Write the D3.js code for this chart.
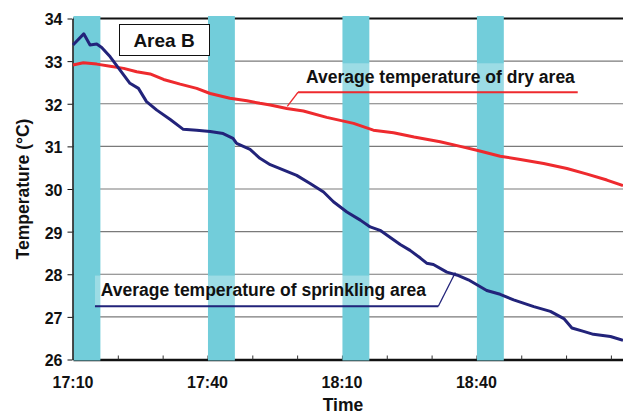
<!DOCTYPE html>
<html>
<head>
<meta charset="utf-8">
<script src="https://cdn.jsdelivr.net/npm/d3@7"></script>
<style>
  body { margin: 0; background: #fff; }
  svg { display: block; font-family: 'Liberation Sans', Arial, sans-serif; font-weight: bold; }
</style>
</head>
<body>
<svg id="chart" width="623" height="414"></svg>
<script>
// minutes after 17:10
const dryMinutes = [0, 2.3, 5.3, 8.3, 11.3, 14.2, 17.2, 20.2, 23.9, 27.6, 30.6, 35, 38.8, 41.7, 44, 47.7,
  51.4, 56.6, 62.6, 67, 71.5, 76.1, 81.9, 86.4, 90.1, 95.3, 99.8, 105, 110.2, 114.7, 119.1, 122.7];
const dryTemps = [32.91, 32.96, 32.93, 32.88, 32.83, 32.75, 32.70, 32.57, 32.46, 32.36, 32.24, 32.13, 32.07, 32.01, 31.97, 31.89,
  31.83, 31.68, 31.54, 31.38, 31.32, 31.22, 31.11, 31.00, 30.91, 30.77, 30.69, 30.60, 30.48, 30.35, 30.21, 30.08];

const sprinkMinutes = [0, 2.4, 3.8, 5.3, 6.4, 8.3, 10.5, 12.7, 14.6, 16.4, 18.7, 21.7, 24.6, 27.6, 30.6, 33.5,
  35.7, 36.5, 39.5, 41.7, 44, 46.2, 49.9, 52.9, 55.9, 58.1, 61.1, 64.1, 66.3, 68.5, 73, 75.2, 77.5, 78.9,
  80.4, 83.4, 86, 88.2, 92.3, 95.3, 98.3, 102.8, 106.5, 109.5, 111.3, 113.9, 116.1, 119.9, 122.7];
const sprinkTemps = [33.38, 33.64, 33.38, 33.40, 33.32, 33.10, 32.79, 32.48, 32.36, 32.05, 31.85, 31.63, 31.40, 31.38, 31.35, 31.30,
  31.19, 31.07, 30.93, 30.72, 30.57, 30.48, 30.32, 30.13, 29.93, 29.70, 29.46, 29.27, 29.11, 29.03, 28.70, 28.56, 28.38, 28.26,
  28.23, 28.05, 27.97, 27.87, 27.62, 27.53, 27.40, 27.24, 27.13, 26.96, 26.74, 26.66, 26.59, 26.54, 26.45];

// sprinkling periods (start, end) in minutes
const sprinkStart = [0, 30, 60, 90];
const sprinkEnd = [6, 36, 66, 96];

const xTickLabels = ['17:10', '17:40', '18:10', '18:40'];
const xTickMinutes = [0, 30, 60, 90];
const yTicks = [26, 27, 28, 29, 30, 31, 32, 33, 34];

const svg = d3.select('#chart');
const x = d3.scaleLinear().domain([0, 122.7]).range([73, 623]);
const y = d3.scaleLinear().domain([26, 34]).range([359.5, 18.5]);

const red = '#ee2a2e';
const navy = '#22237a';
const band = '#72cdda';

// grid
svg.append('g')
  .selectAll('line')
  .data(yTicks.filter(d => d > 26 && d < 34))
  .join('line')
  .attr('x1', x(0)).attr('x2', 623)
  .attr('y1', d => y(d)).attr('y2', d => y(d))
  .attr('stroke', '#7a7a7a').attr('stroke-width', 1.2);

// top frame line
svg.append('line')
  .attr('x1', x(0)).attr('x2', 623)
  .attr('y1', y(34)).attr('y2', y(34))
  .attr('stroke', '#111').attr('stroke-width', 2);

// bottom axis with minor ticks pointing up
const xAxis = d3.axisBottom(x)
  .tickValues(d3.range(10, 121, 10))
  .tickSizeInner(-4).tickSizeOuter(0)
  .tickFormat('');
svg.append('g')
  .attr('transform', `translate(0,${y(26)})`)
  .call(xAxis)
  .call(g => g.select('.domain').attr('stroke', '#111').attr('stroke-width', 2.5))
  .call(g => g.selectAll('.tick line').attr('stroke', '#333'));

// sprinkling bands
svg.append('g')
  .selectAll('rect')
  .data(sprinkStart.map((s, i) => [s, sprinkEnd[i]]))
  .join('rect')
  .attr('x', d => x(d[0]) + 0.5)
  .attr('width', d => x(d[1]) - x(d[0]))
  .attr('y', 16)
  .attr('height', y(26) - 16 + 1)
  .attr('fill', band);

// left axis
const yAxis = d3.axisLeft(y).tickValues(yTicks).tickSizeInner(5).tickSizeOuter(0);
svg.append('g')
  .attr('transform', `translate(${x(0) - 0.5},0)`)
  .call(yAxis)
  .call(g => g.select('.domain').attr('stroke', '#111').attr('stroke-width', 1.5))
  .call(g => g.selectAll('.tick line').attr('stroke', '#111'))
  .call(g => g.selectAll('.tick text')
    .attr('x', -10).attr('dy', '0.4em')
    .attr('font-size', 16).attr('font-weight', 'bold')
    .attr('font-family', "'Liberation Sans', Arial, sans-serif").attr('fill', '#111'));

// x tick labels
svg.append('g')
  .selectAll('text')
  .data(xTickLabels)
  .join('text')
  .attr('x', (d, i) => x(xTickMinutes[i]))
  .attr('y', 388)
  .attr('text-anchor', 'middle')
  .attr('font-size', 16)
  .attr('fill', '#111')
  .text(d => d);

svg.append('text')
  .attr('x', 343).attr('y', 411)
  .attr('text-anchor', 'middle').attr('font-size', 17.5).attr('fill', '#111')
  .text('Time');

svg.append('text')
  .attr('transform', 'translate(29,189) rotate(-90)')
  .attr('text-anchor', 'middle').attr('font-size', 17.5).attr('fill', '#111')
  .text('Temperature (°C)');

// series
const line = d3.line().x(d => x(d[0])).y(d => y(d[1]));
const dry = dryMinutes.map((m, i) => [m, dryTemps[i]]);
const sprink = sprinkMinutes.map((m, i) => [m, sprinkTemps[i]]);

svg.append('path').datum(dry)
  .attr('d', line).attr('fill', 'none')
  .attr('stroke', red).attr('stroke-width', 3).attr('stroke-linejoin', 'round');

svg.append('path').datum(sprink)
  .attr('d', line).attr('fill', 'none')
  .attr('stroke', navy).attr('stroke-width', 3).attr('stroke-linejoin', 'round');

// Area B box
svg.append('rect')
  .attr('x', 119.5).attr('y', 24.5).attr('width', 90).attr('height', 31)
  .attr('fill', '#fff').attr('stroke', '#111').attr('stroke-width', 1);
svg.append('text')
  .attr('x', 164).attr('y', 47)
  .attr('text-anchor', 'middle').attr('font-size', 19).attr('fill', '#111')
  .text('Area B');

// callout labels
const callout = (label, textAt, underline, pointAt, color) => {
  const g = svg.append('g');
  g.append('rect')
    .attr('x', x(underline[0])).attr('y', y(textAt[1]) - 20)
    .attr('width', x(underline[1]) - x(underline[0]) - 8)
    .attr('height', y(underline[2]) - y(textAt[1]) + 19)
    .attr('fill', '#fff').attr('opacity', 0.3);
  g.append('text')
    .attr('x', x(textAt[0])).attr('y', y(textAt[1]))
    .attr('font-size', 17.5).attr('fill', '#111')
    .text(label);
  g.append('path')
    .attr('d', d3.line()([
      [x(underline[1]), y(underline[2])],
      [x(underline[0]), y(underline[2])]
    ]))
    .attr('fill', 'none').attr('stroke', color).attr('stroke-width', 2);
  g.append('path')
    .attr('d', d3.line()([
      [x(pointAt[2]), y(underline[2])],
      [x(pointAt[0]), y(pointAt[1])]
    ]))
    .attr('fill', 'none').attr('stroke', color).attr('stroke-width', 1.3);
};

callout('Average temperature of dry area', [52, 32.48], [50.2, 112.6, 32.27], [47.8, 31.94, 50.2], red);
callout('Average temperature of sprinkling area', [6.2, 27.5], [4.9, 81.5, 27.25], [85.3, 28.04, 81.5], navy);
</script>
</body>
</html>
